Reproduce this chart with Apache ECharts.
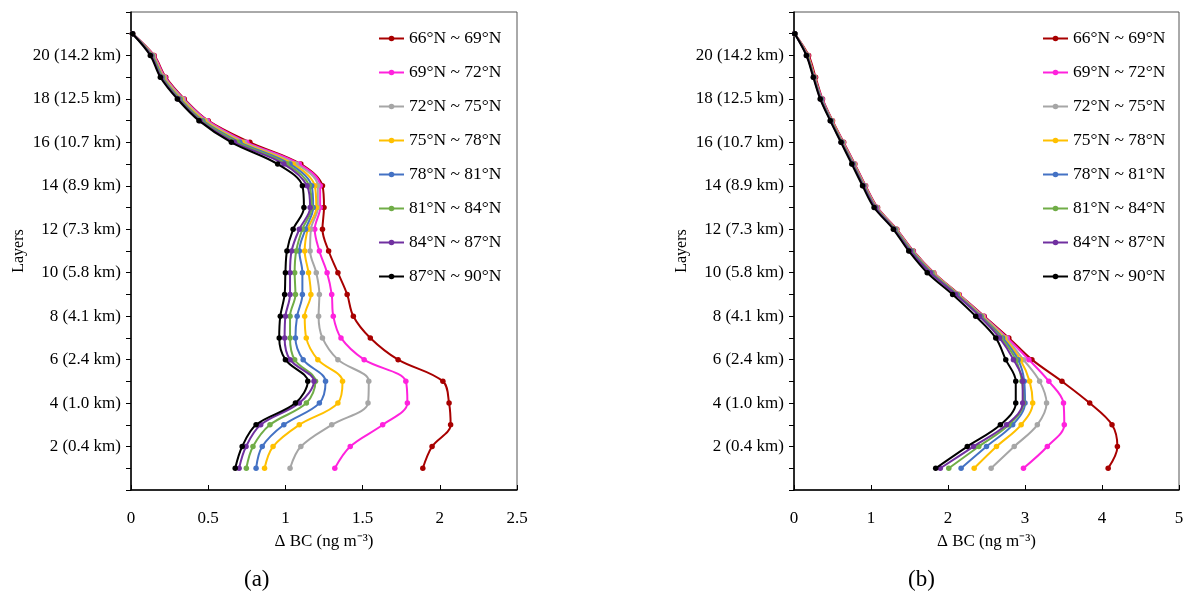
<!DOCTYPE html>
<html><head><meta charset="utf-8">
<script src="https://cdn.jsdelivr.net/npm/echarts@6/dist/echarts.min.js"></script>
<style>html,body{margin:0;padding:0;background:#fff}#c{width:1187px;height:598px}</style>
</head><body><div id="c"></div>
<script>
// Layers (y values)
const layers = [1,2,3,4,5,6,7,8,9,10,11,12,13,14,15,16,17,18,19,20,21];
const layerTickLabels = ['2 (0.4 km)','4 (1.0 km)','6 (2.4 km)','8 (4.1 km)','10 (5.8 km)','12 (7.3 km)','14 (8.9 km)','16 (10.7 km)','18 (12.5 km)','20 (14.2 km)'];
const layerTickValues = [2,4,6,8,10,12,14,16,18,20];
const seriesNames = ['66°N ~ 69°N','69°N ~ 72°N','72°N ~ 75°N','75°N ~ 78°N','78°N ~ 81°N','81°N ~ 84°N','84°N ~ 87°N','87°N ~ 90°N'];

// Panel (a) ΔBC values, layer 1..21
const a66 = [1.89, 1.95, 2.07, 2.06, 2.02, 1.73, 1.55, 1.44, 1.40, 1.34, 1.28, 1.24, 1.25, 1.24, 1.10, 0.77, 0.50, 0.345, 0.225, 0.15, 0.01];
const a69 = [1.32, 1.42, 1.63, 1.79, 1.78, 1.51, 1.36, 1.31, 1.30, 1.27, 1.22, 1.19, 1.225, 1.225, 1.09, 0.75, 0.495, 0.34, 0.22, 0.147, 0.01];
const a72 = [1.03, 1.10, 1.30, 1.535, 1.54, 1.34, 1.24, 1.215, 1.22, 1.20, 1.16, 1.165, 1.21, 1.21, 1.07, 0.735, 0.485, 0.335, 0.215, 0.143, 0.01];
const a75 = [0.865, 0.92, 1.09, 1.34, 1.37, 1.21, 1.135, 1.125, 1.165, 1.15, 1.125, 1.145, 1.20, 1.19, 1.05, 0.72, 0.475, 0.325, 0.21, 0.14, 0.01];
const a78 = [0.81, 0.85, 0.99, 1.22, 1.26, 1.115, 1.065, 1.076, 1.11, 1.11, 1.09, 1.13, 1.18, 1.17, 1.03, 0.705, 0.465, 0.318, 0.205, 0.137, 0.01];
const a81 = [0.747, 0.79, 0.90, 1.136, 1.195, 1.06, 1.03, 1.03, 1.065, 1.06, 1.07, 1.11, 1.17, 1.155, 1.01, 0.69, 0.457, 0.312, 0.2, 0.134, 0.01];
const a84 = [0.70, 0.745, 0.84, 1.09, 1.185, 1.03, 0.995, 1.00, 1.03, 1.03, 1.04, 1.09, 1.16, 1.14, 0.99, 0.67, 0.448, 0.306, 0.195, 0.13, 0.01];
const a87 = [0.675, 0.72, 0.81, 1.065, 1.145, 1.00, 0.96, 0.967, 0.995, 1.00, 1.01, 1.05, 1.12, 1.11, 0.95, 0.65, 0.44, 0.30, 0.19, 0.125, 0.01];

// Panel (b) ΔBC values, layer 1..21
const b66 = [4.08, 4.20, 4.13, 3.84, 3.48, 3.09, 2.79, 2.47, 2.145, 1.815, 1.55, 1.335, 1.085, 0.93, 0.79, 0.645, 0.50, 0.37, 0.28, 0.19, 0.01];
const b69 = [2.98, 3.29, 3.51, 3.50, 3.31, 3.05, 2.77, 2.46, 2.14, 1.81, 1.545, 1.33, 1.08, 0.925, 0.785, 0.64, 0.495, 0.365, 0.27, 0.18, 0.01];
const b72 = [2.56, 2.86, 3.16, 3.28, 3.19, 2.98, 2.75, 2.45, 2.135, 1.805, 1.54, 1.325, 1.075, 0.92, 0.78, 0.635, 0.49, 0.36, 0.265, 0.175, 0.01];
const b75 = [2.34, 2.63, 2.95, 3.10, 3.06, 2.94, 2.73, 2.44, 2.13, 1.80, 1.535, 1.32, 1.07, 0.915, 0.775, 0.63, 0.49, 0.355, 0.265, 0.175, 0.01];
const b78 = [2.17, 2.50, 2.84, 3.00, 2.99, 2.91, 2.71, 2.43, 2.12, 1.79, 1.53, 1.315, 1.065, 0.91, 0.77, 0.625, 0.485, 0.355, 0.26, 0.17, 0.01];
const b81 = [2.01, 2.40, 2.79, 2.98, 2.96, 2.88, 2.69, 2.42, 2.11, 1.78, 1.52, 1.31, 1.06, 0.905, 0.765, 0.62, 0.48, 0.35, 0.26, 0.17, 0.01];
const b84 = [1.90, 2.33, 2.76, 2.97, 2.97, 2.85, 2.67, 2.41, 2.10, 1.77, 1.51, 1.30, 1.055, 0.90, 0.76, 0.615, 0.475, 0.345, 0.255, 0.165, 0.01];
const b87 = [1.84, 2.25, 2.68, 2.88, 2.88, 2.75, 2.62, 2.36, 2.06, 1.73, 1.49, 1.29, 1.04, 0.89, 0.75, 0.61, 0.47, 0.34, 0.25, 0.16, 0.01];

const panelA = [a66, a69, a72, a75, a78, a81, a84, a87];
const panelB = [b66, b69, b72, b75, b78, b81, b84, b87];
const colors = ['#A80000','#FF22DD','#A6A6A6','#FFC000','#4472C4','#70AD47','#7030A0','#000000'];

const FONT = 'Liberation Serif';

function xAxisDef(gi, max, interval) {
  return {
    type: 'value', gridIndex: gi, min: 0, max: max, interval: interval, position: 'bottom',
    axisLine: {show: true, onZero: false, lineStyle: {color: '#000', width: 1.5}},
    axisTick: {show: true, inside: true, length: 5, lineStyle: {color: '#000', width: 1}},
    axisLabel: {color: '#000', fontFamily: FONT, fontSize: 17, margin: 20},
    splitLine: {show: false},
    name: 'Δ BC (ng m⁻³)', nameLocation: 'middle', nameGap: 43,
    nameTextStyle: {color: '#000', fontFamily: FONT, fontSize: 17}
  };
}
function yAxisDef(gi) {
  return {
    type: 'value', gridIndex: gi, min: 0, max: 22, interval: 1,
    axisLine: {show: true, onZero: false, lineStyle: {color: '#000', width: 1.5}},
    axisTick: {show: true, inside: false, length: 5, lineStyle: {color: '#000', width: 1}},
    axisLabel: {color: '#000', fontFamily: FONT, fontSize: 17, margin: 10,
      formatter: function (v) { const i = layerTickValues.indexOf(v); return i >= 0 ? layerTickLabels[i] : ''; }},
    splitLine: {show: false},
    name: 'Layers', nameLocation: 'middle', nameGap: 104, nameRotate: 90,
    nameTextStyle: {color: '#000', fontFamily: FONT, fontSize: 16}
  };
}

const series = [];
[panelA, panelB].forEach(function (panel, gi) {
  panel.forEach(function (vals, k) {
    series.push({
      type: 'line', name: seriesNames[k], xAxisIndex: gi, yAxisIndex: gi,
      data: layers.map(function (L, i) { return [vals[i], L]; }),
      smooth: 0.35, symbol: 'circle', symbolSize: 5.5, showSymbol: true,
      lineStyle: {color: colors[k], width: 2}, itemStyle: {color: colors[k]},
      z: 2 + k, animation: false
    });
  });
});

function legendDef(left) {
  return {
    orient: 'vertical', left: left, top: 24.5, padding: 5, itemWidth: 25, itemHeight: 7, itemGap: 16,
    data: seriesNames, selectedMode: false,
    textStyle: {color: '#000', fontFamily: FONT, fontSize: 17.5}
  };
}

const chart = echarts.init(document.getElementById('c'), null, {renderer: 'canvas'});
chart.setOption({
  backgroundColor: '#fff',
  animation: false,
  grid: [
    {left: 131, top: 12, width: 386, height: 478, show: true, borderColor: '#555', borderWidth: 1, containLabel: false, outerBoundsMode: 'none'},
    {left: 794, top: 12, width: 385, height: 478, show: true, borderColor: '#555', borderWidth: 1, containLabel: false, outerBoundsMode: 'none'}
  ],
  xAxis: [xAxisDef(0, 2.5, 0.5), xAxisDef(1, 5, 1)],
  yAxis: [yAxisDef(0), yAxisDef(1)],
  legend: [legendDef(373), legendDef(1037)],
  series: series,
  graphic: [
    {type: 'text', left: 244, top: 568, style: {text: '(a)', font: '23px "Liberation Serif"', fill: '#000'}},
    {type: 'text', left: 908, top: 568, style: {text: '(b)', font: '23px "Liberation Serif"', fill: '#000'}}
  ]
});
</script></body></html>
